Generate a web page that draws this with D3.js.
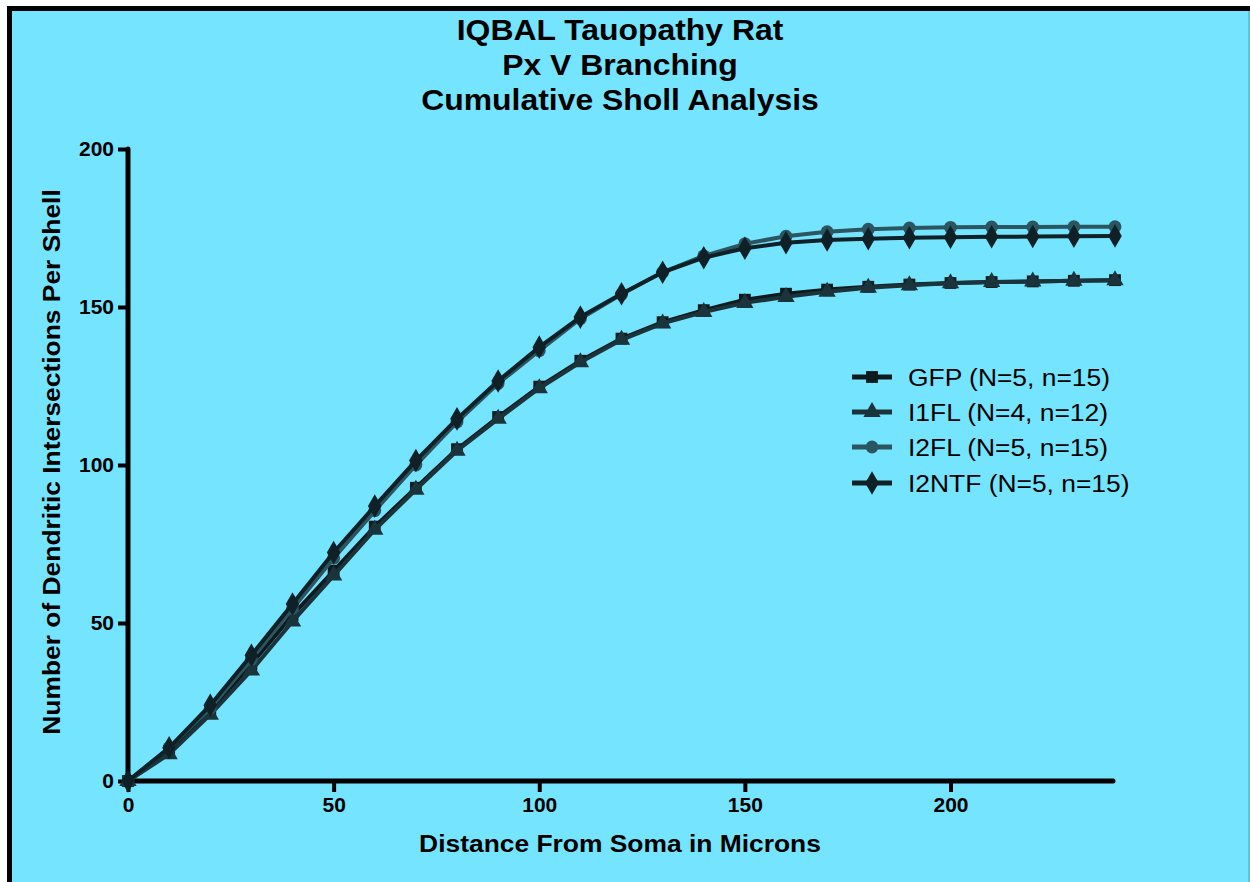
<!DOCTYPE html>
<html>
<head>
<meta charset="utf-8">
<script src="https://cdn.jsdelivr.net/npm/d3@7"></script>
<style>
  html, body { margin: 0; padding: 0; background: #ffffff; }
  svg { display: block; }
  text { font-family: "Liberation Sans", Arial, sans-serif; }
</style>
</head>
<body>
<svg id="chart" width="1250" height="882"></svg>
<script>
// Cumulative Sholl analysis: distance from soma (microns) vs. intersections
const distances = [0, 10, 20, 30, 40, 50, 60, 70, 80, 90, 100, 110, 120, 130, 140, 150, 160, 170, 180, 190, 200, 210, 220, 230, 240];

const gfp   = [0, 9.5, 22, 37, 52.5, 66.5, 80.5, 92.8, 105, 115.2, 124.8, 133, 140, 145.2, 149, 152.3, 154.2, 155.5, 156.4, 157.1, 157.6, 157.9, 158.1, 158.3, 158.5];
const i1fl  = [0, 8.5, 21, 35, 50.5, 65, 79.5, 92.2, 104.5, 114.6, 124.3, 132.5, 139.6, 144.8, 148.4, 151.3, 153.2, 154.8, 156.1, 156.9, 157.5, 157.9, 158.1, 158.3, 158.5];
const i2fl  = [0, 10.5, 23, 38.5, 54.5, 70.5, 85.5, 100, 113.6, 125.8, 136.2, 146.3, 154, 161, 166.2, 170, 172.4, 173.8, 174.6, 175, 175.2, 175.3, 175.3, 175.4, 175.4];
const i2ntf = [0, 10.5, 24, 39.8, 56, 72.3, 87, 101.4, 114.6, 126.6, 137.3, 146.8, 154.2, 161, 165.6, 168.6, 170.3, 171.2, 171.6, 171.9, 172.1, 172.2, 172.3, 172.4, 172.5];

const seriesNames = ["GFP (N=5, n=15)", "I1FL (N=4, n=12)", "I2FL (N=5, n=15)", "I2NTF (N=5, n=15)"];
const seriesValues = [gfp, i1fl, i2fl, i2ntf];
const seriesSymbols = [d3.symbolSquare, d3.symbolTriangle, d3.symbolCircle, d3.symbolDiamond];
const seriesColors = ["#0d1a1e", "#1b343b", "#2b5560", "#0f2127"];
const symbolSizes = [140, 130, 130, 160];

const xTicks = [0, 50, 100, 150, 200];
const yTicks = [0, 50, 100, 150, 200];
const titleLines = ["IQBAL Tauopathy Rat", "Px V Branching", "Cumulative Sholl Analysis"];

const svg = d3.select("#chart");
const WIDE = 1.1; // text is set slightly wide

// panel background with a heavy frame on the top and left edges
svg.append("rect").attr("x", 8).attr("y", 6).attr("width", 1242).attr("height", 876).attr("fill", "#75e5ff");
svg.append("rect").attr("x", 7).attr("y", 6).attr("width", 1243).attr("height", 5).attr("fill", "#000");
svg.append("rect").attr("x", 7).attr("y", 6).attr("width", 5).attr("height", 876).attr("fill", "#000");
svg.append("rect").attr("x", 1248).attr("y", 11).attr("width", 2).attr("height", 871).attr("fill", "#5fc3d8");

const x = d3.scaleLinear().domain([0, 240]).range([128, 1115]);
const y = d3.scaleLinear().domain([0, 200]).range([781, 149]);

// title
svg.append("g").selectAll("text").data(titleLines).join("text")
  .attr("transform", (d, i) => `translate(620,${40 + i * 35}) scale(${WIDE},1)`)
  .attr("text-anchor", "middle")
  .attr("font-size", 29).attr("font-weight", "bold").attr("fill", "#000")
  .text(d => d);

// axes
const xAxis = svg.append("g").attr("transform", `translate(0,${y(0)})`)
  .call(d3.axisBottom(x).tickValues(xTicks).tickSize(11).tickPadding(5).tickFormat(d3.format("d")));
const yAxis = svg.append("g").attr("transform", `translate(${x(0)},0)`)
  .call(d3.axisLeft(y).tickValues(yTicks).tickSize(10).tickPadding(4).tickFormat(d3.format("d")));

[xAxis, yAxis].forEach(g => {
  g.select(".domain").attr("stroke", "#000").attr("stroke-width", 5).attr("stroke-linecap", "round");
  g.selectAll(".tick line").attr("stroke", "#000").attr("stroke-width", 4);
  g.selectAll(".tick text").attr("fill", "#000").attr("font-size", 21).attr("font-weight", "bold")
    .attr("font-family", "Liberation Sans, Arial, sans-serif");
});
xAxis.select(".domain").attr("d", `M${x(0)},0H${x(240) - 2}`);
yAxis.select(".domain").attr("d", `M0,${y(200)}V${y(0)}`);

// axis titles
svg.append("text").attr("transform", `translate(620,852) scale(${WIDE},1)`).attr("text-anchor", "middle")
  .attr("font-size", 24).attr("font-weight", "bold").attr("fill", "#000")
  .text("Distance From Soma in Microns");
svg.append("text").attr("transform", `translate(60,462) rotate(-90) scale(${WIDE},1)`).attr("text-anchor", "middle")
  .attr("font-size", 24).attr("font-weight", "bold").attr("fill", "#000")
  .text("Number of Dendritic Intersections Per Shell");

// series lines and markers
const line = d3.line().x(d => x(d[0])).y(d => y(d[1]));
seriesValues.forEach((vals, i) => {
  const pts = distances.map((dx, k) => [dx, vals[k]]);
  const g = svg.append("g");
  g.append("path").datum(pts).attr("d", line)
    .attr("fill", "none").attr("stroke", seriesColors[i]).attr("stroke-width", 4).attr("stroke-linejoin", "round");
  g.selectAll("path.m").data(pts).join("path").attr("class", "m")
    .attr("transform", d => `translate(${x(d[0])},${y(d[1])})`)
    .attr("d", d3.symbol().type(seriesSymbols[i]).size(symbolSizes[i]))
    .attr("fill", seriesColors[i]);
});

// legend
const legendY = [377, 412, 447, 483];
const legend = svg.append("g");
seriesNames.forEach((name, i) => {
  const ly = legendY[i];
  legend.append("line").attr("x1", 852).attr("x2", 892).attr("y1", ly).attr("y2", ly)
    .attr("stroke", seriesColors[i]).attr("stroke-width", 5);
  legend.append("path").attr("transform", `translate(872,${ly})`)
    .attr("d", d3.symbol().type(seriesSymbols[i]).size(symbolSizes[i]))
    .attr("fill", seriesColors[i]);
  legend.append("text").attr("transform", `translate(908,${ly + 9}) scale(${WIDE},1)`)
    .attr("font-size", 24).attr("fill", "#000").text(name);
});
</script>
</body>
</html>
